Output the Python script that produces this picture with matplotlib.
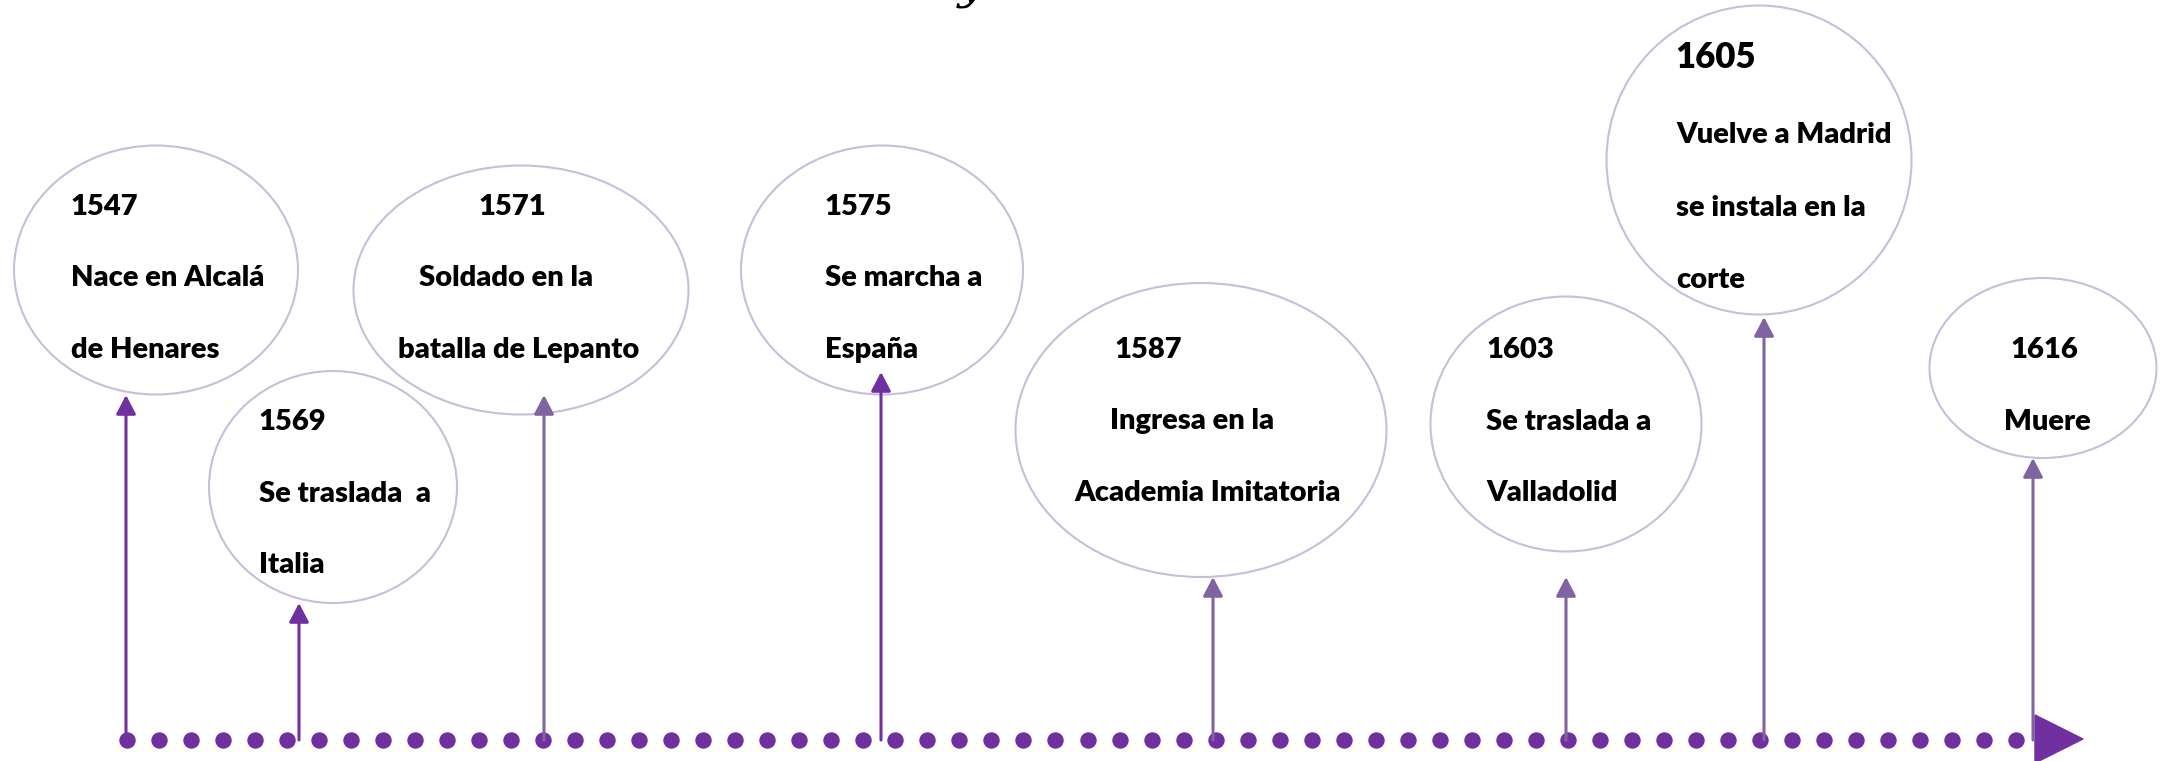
import matplotlib
matplotlib.use("Agg")
import matplotlib.pyplot as plt
from matplotlib.patches import Ellipse, Polygon
import numpy as np

# ---- data ----
years = ["1547", "1569", "1571", "1575", "1587", "1603", "1605", "1616"]
events = [
    ["Nace en Alcalá", "de Henares"],
    ["Se traslada  a", "Italia"],
    ["Soldado en la", "batalla de Lepanto"],
    ["Se marcha a", "España"],
    ["Ingresa en la", "Academia Imitatoria"],
    ["Se traslada a", "Valladolid"],
    ["Vuelve a Madrid", "se instala en la", "corte"],
    ["Muere"],
]

# ---- layout (pixel units) ----
W, H = 2164, 761
ell_cx = [156, 333, 521, 882, 1201, 1566, 1759, 2043]
ell_cy = [270, 487, 290, 270, 430, 424, 160, 368]
ell_w = [284, 248, 335, 282, 371, 271, 305, 227]
ell_h = [249, 232, 249, 249, 294, 255, 309, 180]
arrow_x = [126, 299, 544, 881, 1213, 1566, 1764, 2033]
arrow_tip = [395, 603, 395, 372, 577, 577, 317, 458]
year_x = [71, 259, 478, 825, 1115, 1486, 1675, 2010]
year_y = [215, 430, 215, 215, 358, 358, 68, 358]
line_x = [[71, 71], [259, 259], [419, 398], [825, 825], [1110, 1074],
          [1486, 1486], [1676, 1676, 1676], [2004]]
line_gap = [71.5, 71.5, 71.5, 71.5, 71.5, 71.5, 72.5, 71.5]
first_gap = [71.5, 71.5, 71.5, 71.5, 71.5, 71.5, 75, 71.5]

DARK = "#7030A0"
LIGHT = "#8064A2"
arrow_col = [DARK, DARK, LIGHT, DARK, LIGHT, LIGHT, LIGHT, LIGHT]
ELL_EDGE = "#C8BDDB"
base_y = 740
dot_start, dot_end, n_dots = 127, 2016, 60

fig = plt.figure(figsize=(W / 100, H / 100), dpi=100)
ax = fig.add_axes([0, 0, 1, 1])
ax.set_xlim(0, W)
ax.set_ylim(H, 0)
ax.axis("off")

FONT = "Lato"
FS = 21
WEIGHT = "heavy"

# ellipses
for cx, cy, w, h in zip(ell_cx, ell_cy, ell_w, ell_h):
    ax.add_patch(Ellipse((cx, cy), w, h, facecolor="white", edgecolor=ELL_EDGE,
                         lw=1.5, zorder=2))

# texts
for i, (yr, lines) in enumerate(zip(years, events)):
    fs = 25 if yr == "1605" else FS
    ax.text(year_x[i], year_y[i], yr, fontsize=fs, fontweight=WEIGHT,
            family=FONT, ha="left", va="baseline", zorder=5)
    y = year_y[i] + first_gap[i]
    for j, t in enumerate(lines):
        ax.text(line_x[i][j], y, t, fontsize=FS, fontweight=WEIGHT,
                family=FONT, ha="left", va="baseline", zorder=5)
        y += line_gap[i]

# vertical arrows
for x, tip, c in zip(arrow_x, arrow_tip, arrow_col):
    ax.annotate("", xy=(x, tip), xytext=(x, base_y),
                arrowprops=dict(arrowstyle="-|>,head_length=1.15,head_width=0.6",
                                mutation_scale=10, lw=2.2, color=c,
                                shrinkA=0, shrinkB=0), zorder=4)

# dotted baseline
dots_x = np.linspace(dot_start, dot_end, n_dots)
ax.scatter(dots_x, np.full(n_dots, base_y), s=140, color=DARK, zorder=3,
           linewidths=0)
ax.add_patch(Polygon([[2035, 715], [2083, 739], [2035, 763]], closed=True,
                     color=DARK, zorder=3))

# cut-off title fragment
ax.text(958, -2, "y", fontsize=34, style="italic", family="DejaVu Serif",
        ha="left", va="baseline", color="black")

fig.savefig("out.png", dpi=100)
